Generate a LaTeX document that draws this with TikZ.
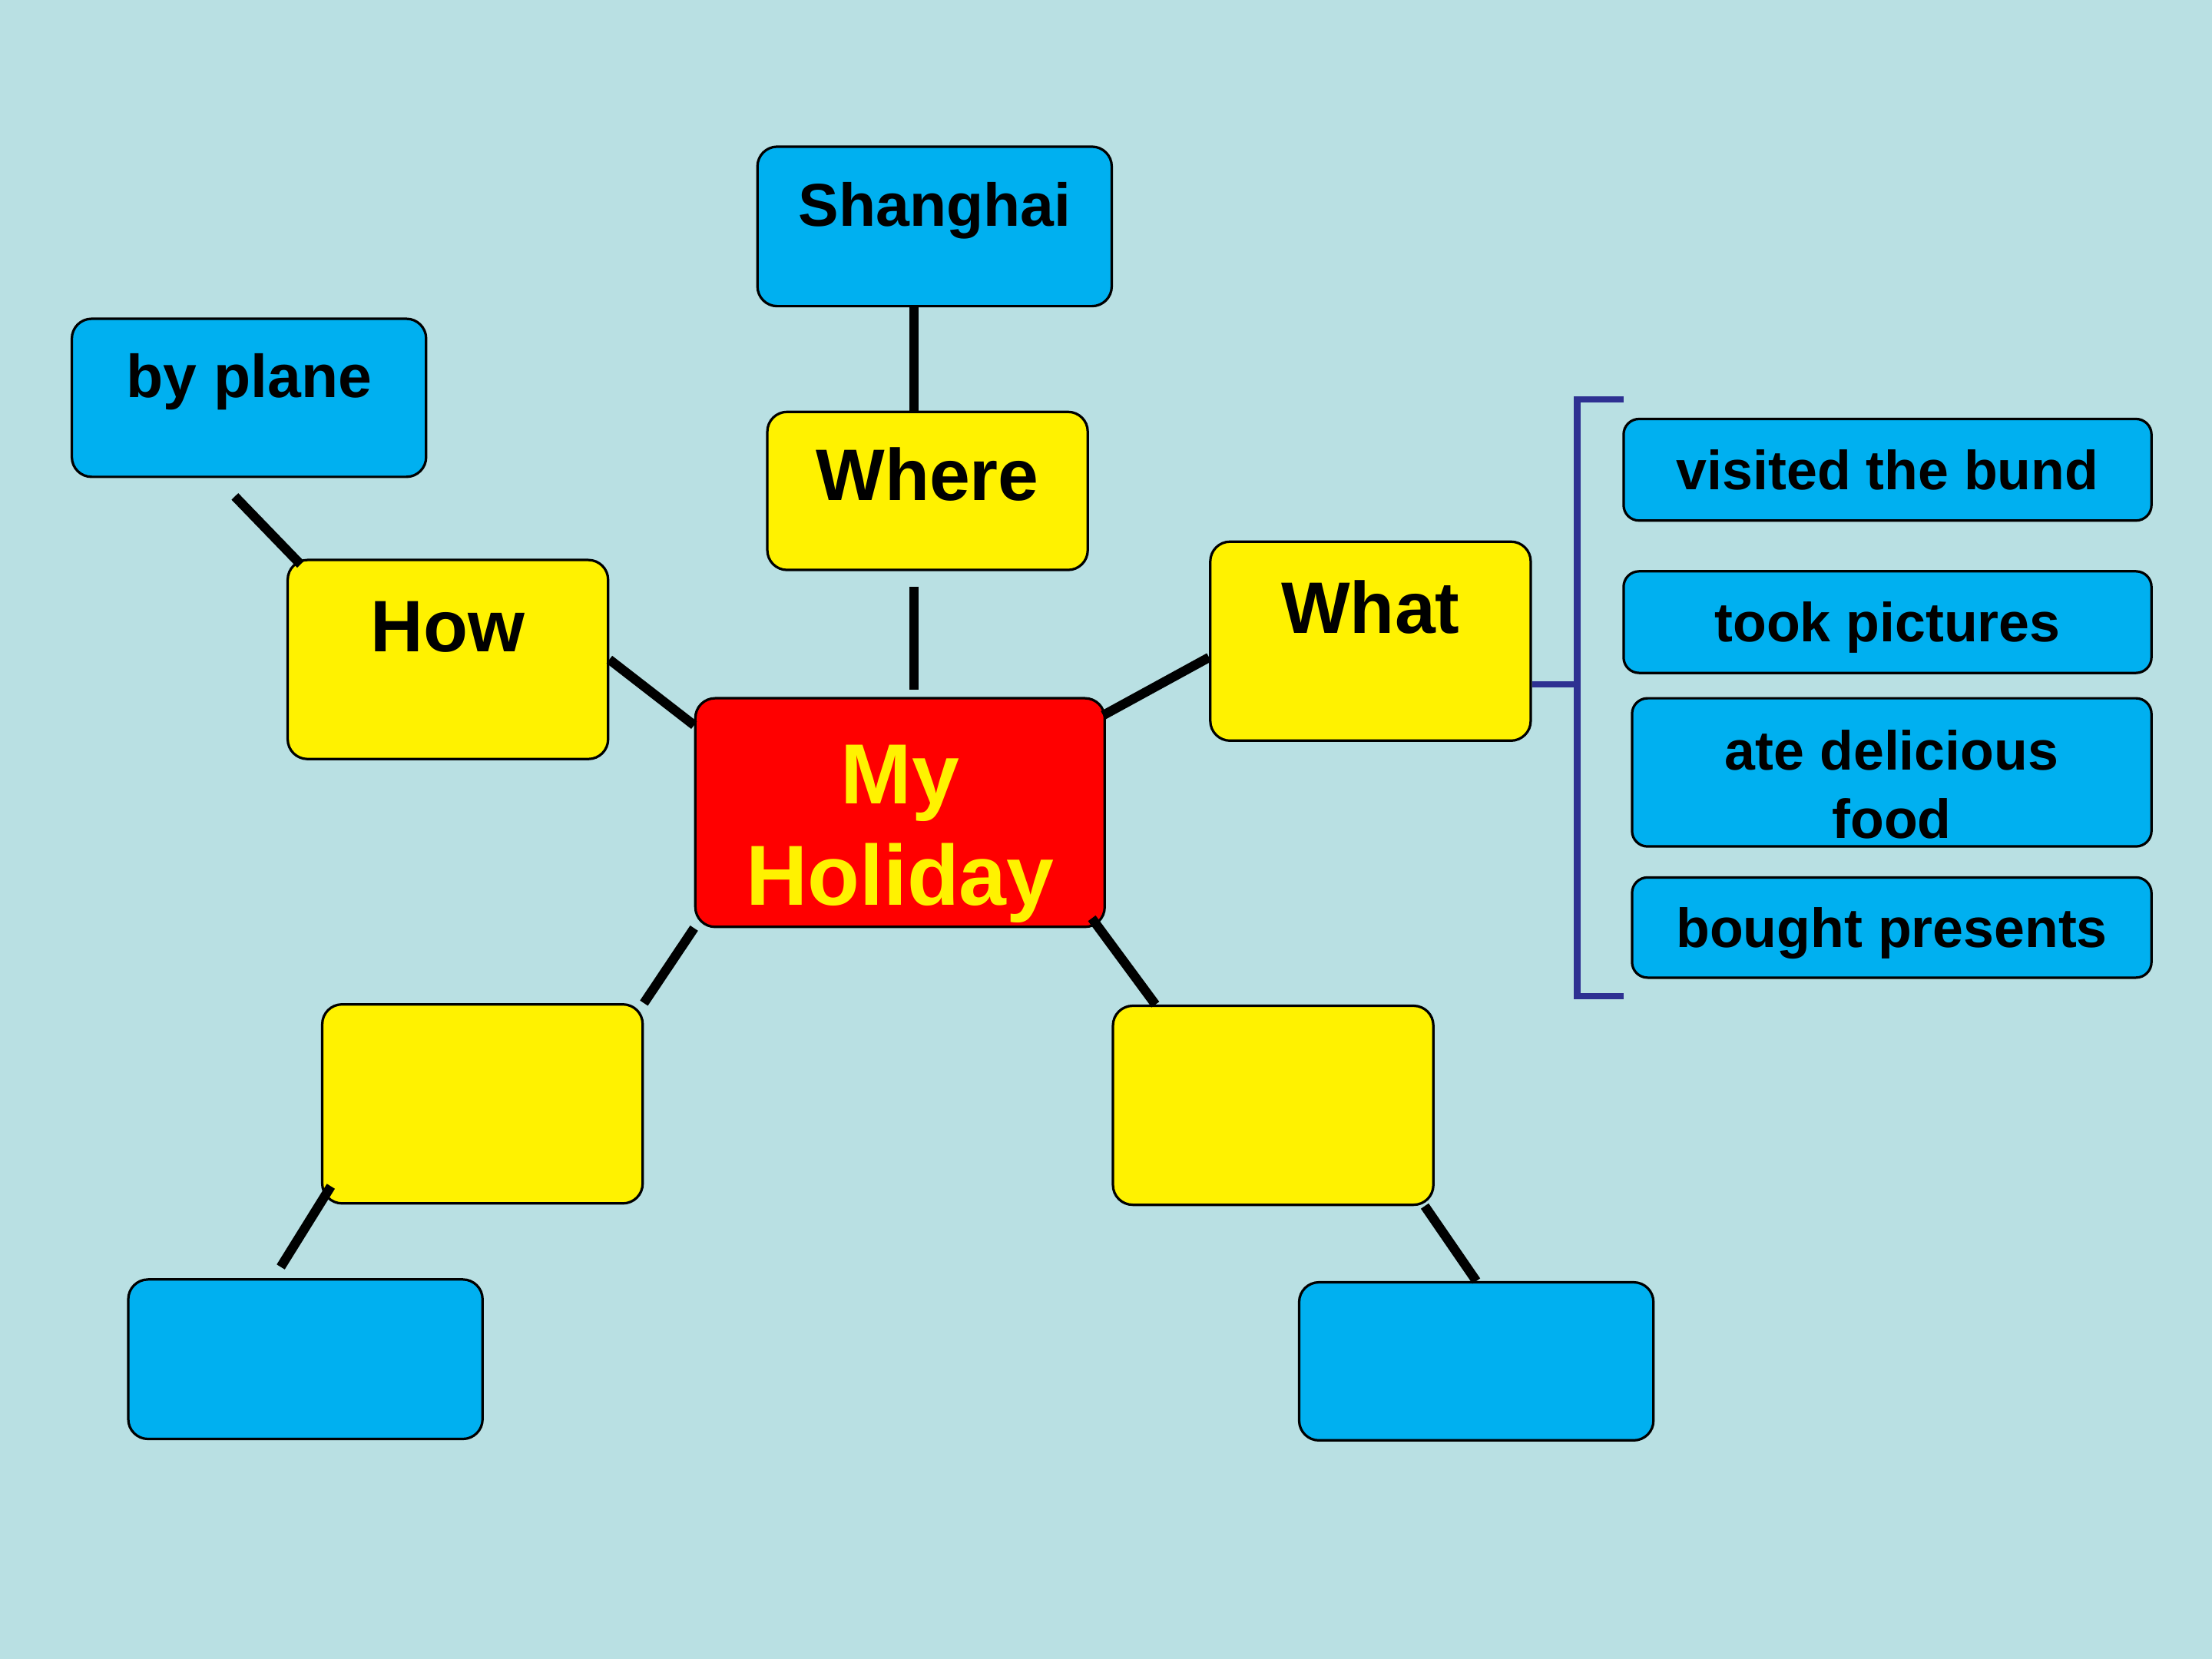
\documentclass[tikz,border=0pt]{standalone}
\usepackage{fontspec}
\setmainfont{Liberation Sans}
\usetikzlibrary{calc}

\definecolor{bgcol}{HTML}{B9E0E3}
\definecolor{skyb}{HTML}{00B0F0}
\definecolor{brackcol}{HTML}{2E3192}

\begin{document}
\begin{tikzpicture}[
   x=0.01cm,
   y=-0.01cm,
   line join=round,
   box/.style={draw=black,line width=0.5pt,rounded corners=0.14cm,inner sep=0pt},
   ybox/.style={box,fill=yellow,minimum width=2.27cm,minimum height=1.41cm},
   bbox/.style={box,fill=skyb,minimum width=2.51cm,minimum height=1.12cm},
   lbox/.style={box,fill=skyb,rounded corners=0.11cm,text depth=0pt,
     font=\fontsize{11.1}{13.8}\selectfont\bfseries},
   lword/.style={align=center,font=\fontsize{11.1}{13.8}\selectfont\bfseries},
   hword/.style={align=center,text=yellow,font=\fontsize{17.2}{20.5}\selectfont\bfseries},
   word/.style={text height=1.5ex,text depth=0.25ex,font=\fontsize{14.7}{17}\selectfont\bfseries},
   bword/.style={text height=1.5ex,text depth=0.25ex,font=\fontsize{12.2}{14}\selectfont\bfseries},
   link/.style={line width=1.9pt},
   brack/.style={draw=brackcol,line width=1.3pt,line join=miter}
 ]
   % Background and page frame.
   \fill[bgcol] (0,0) rectangle (1568,1176);
   \useasboundingbox (0,0) rectangle (1568,1176);

   % Centre of the map.
   \node[box,fill=red,minimum width=2.90cm,minimum height=1.62cm,
     label={[hword,yshift=-0.15cm]center:{My\\Holiday}}] (mh) at (638,576) {};

   % Question boxes.
   \node[ybox,minimum height=1.12cm,label={[word,yshift=0.05cm]center:Where}] (wh) at (657.5,348) {};
   \node[ybox,label={[word,yshift=0.17cm]center:How}] (how) at (317.5,467.5) {};
   \node[ybox,label={[word,yshift=0.17cm]center:What}] (wht) at (971.5,454.5) {};
   \node[ybox] (ylb) at (342,782.5) {};
   \node[ybox] (yrb) at (902.5,783.5) {};

   % Answer boxes.
   \node[bbox,minimum height=1.13cm,label={[bword,yshift=0.115cm]center:Shanghai}] (sh) at (662.5,160.5) {};
   \node[bbox,label={[bword,yshift=0.12cm]center:by plane}] (bp) at (176.5,282) {};
   \node[bbox,minimum height=1.13cm] (blb) at (216.5,963.5) {};
   \node[bbox] (brb) at (1046.5,965) {};

   % The things done there.
   \node[lbox,minimum width=3.74cm,minimum height=0.72cm] (vis) at (1338,333) {visited the bund};
   \node[lbox,minimum width=3.74cm,minimum height=0.72cm] (tok) at (1338,441) {took pictures};
   \node[lbox,minimum width=3.68cm,minimum height=1.05cm,
     label={[lword,yshift=-0.085cm]center:{ate delicious\\food}}] (ate) at (1341,547.5) {};
   \node[lbox,minimum width=3.68cm,minimum height=0.71cm] (bgt) at (1341,657.5) {bought presents};

   % Connectors.
   \draw[link] ($(wh.north)+(-9.5,0)$) -- ($(sh.south)+(-14.5,0)$);
   \draw[link] ($(wh.south)+(-9.5,11)$) -- ($(mh.north)+(10,-5)$);
   \draw[link] ($(bp.south)+(-10,13)$) -- ($(how.north west)+(10,4)$);
   \draw[link] (how.east) -- ($(mh.north west)+(0,20)$);
   \draw[link] ($(wht.west)+(0,11.5)$) -- ($(mh.north east)+(-2,13)$);
   \draw[link] (mh.south west) -- (ylb.north east);
   \draw[link] ($(mh.south east)+(-10,-7)$) -- ($(yrb.north west)+(31,0)$);
   \draw[link] ($(ylb.south west)+(7,-13)$) -- ($(blb.north)+(-17.5,-8)$);
   \draw[link] ($(yrb.south east)+(-7,0)$) -- (brb.north);

   % Bracket round the list.
   \coordinate (brtop) at (1151,283);
   \coordinate (brbot) at (1151,706);
   \coordinate (spine) at (1118,485);
   \draw[brack] (brtop) -| (spine) |- (brbot);
   \draw[brack] (spine -| wht.east) -- (spine);
 \end{tikzpicture}
\end{document}
